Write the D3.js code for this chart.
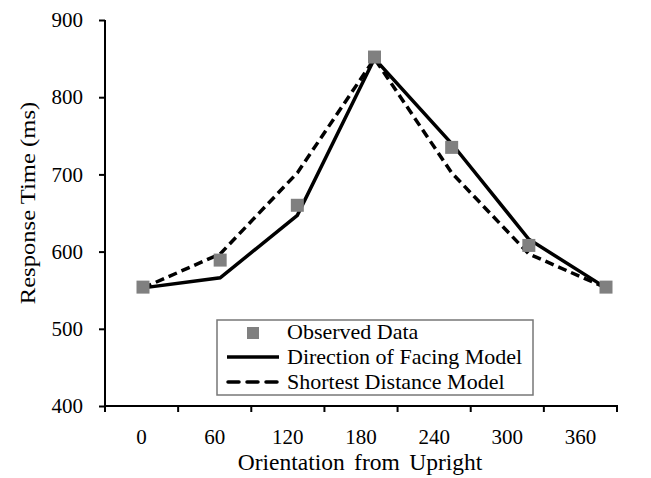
<!DOCTYPE html>
<html>
<head>
<meta charset="utf-8">
<script src="https://cdn.jsdelivr.net/npm/d3@7"></script>
<style>
    body { margin: 0; background: #fff; }
    svg text { font-family: "Liberation Serif", "Times New Roman", serif; fill: #000; }
</style>
</head>
<body>
<div id="chart"></div>
<script>
//chart values
var orientations = [0, 60, 120, 180, 240, 300, 360];
var observed = [554, 589, 660, 852, 735, 608, 554];
var facingModel = [553, 566, 647, 850, 740, 616, 553];
var distanceModel = [553, 597, 702, 850, 702, 597, 553];
var yTicks = [400, 500, 600, 700, 800, 900];
var legendLabels = ["Observed Data", "Direction of Facing Model", "Shortest Distance Model"];

var width = 651;
var height = 478;

var svg = d3.select("#chart")
    .append("svg:svg")
    .attr("width", width)
    .attr("height", height);

var y = d3.scaleLinear()
    .domain([400, 900])
    .range([406, 20]);

//category axis, one band per orientation
var xAxisScale = d3.scaleBand()
    .domain(orientations)
    .range([105, 617]);

//the plotted points sit a little wider than the category labels in the original
var x = d3.scaleLinear()
    .domain([0, 360])
    .range([143, 606]);

var xTickPositions = orientations.map(function(d) { return xAxisScale(d); })
    .concat([xAxisScale.range()[1]]);

// y axis
var yAxis = svg.append("svg:g")
    .attr("transform", "translate(105,0)")
    .call(d3.axisLeft(y).tickValues(yTicks).tickSize(6).tickPadding(16));
yAxis.select(".domain").attr("stroke-width", 2).attr("d", "M0,20V407");
yAxis.selectAll(".tick line").attr("stroke-width", 2);
yAxis.selectAll(".tick text")
    .style("font-family", "Liberation Serif")
    .style("font-size", "21px");

// x axis: labels centred in bands, ticks on band edges
var xAxis = svg.append("svg:g")
    .attr("transform", "translate(0,406)");
xAxis.append("svg:path")
    .attr("d", "M104,0H618")
    .attr("stroke", "#000")
    .attr("stroke-width", 2);
xAxis.selectAll(".x-tick")
    .data(xTickPositions)
    .enter()
    .append("svg:line")
    .attr("class", "x-tick")
    .attr("x1", function(d) { return d; })
    .attr("x2", function(d) { return d; })
    .attr("y1", 0)
    .attr("y2", 6)
    .attr("stroke", "#000")
    .attr("stroke-width", 2);
xAxis.selectAll(".x-label")
    .data(orientations)
    .enter()
    .append("svg:text")
    .attr("class", "x-label")
    .attr("x", function(d) { return xAxisScale(d) + xAxisScale.bandwidth() / 2; })
    .attr("y", 38)
    .attr("text-anchor", "middle")
    .style("font-size", "21px")
    .text(function(d) { return d; });

// axis titles
svg.append("svg:text")
    .attr("x", 360)
    .attr("y", 470)
    .attr("text-anchor", "middle")
    .style("font-size", "23.5px")
    .style("word-spacing", "3.5px")
    .text("Orientation from Upright");

//the original title is stretched along its length
svg.append("svg:text")
    .attr("transform", "translate(35,203) rotate(-90) scale(1.12,1)")
    .attr("text-anchor", "middle")
    .style("font-size", "22px")
    .text("Response Time (ms)");

// series
var line = d3.line()
    .x(function(d, i) { return x(orientations[i]); })
    .y(function(d) { return y(d); });

var series = svg.append("svg:g").attr("class", "vis-series");

series.append("svg:path")
    .datum(distanceModel)
    .attr("d", line)
    .attr("fill", "none")
    .attr("stroke", "#000")
    .attr("stroke-width", 3.5)
    .attr("stroke-dasharray", "9,5");

series.append("svg:path")
    .datum(facingModel)
    .attr("d", line)
    .attr("fill", "none")
    .attr("stroke", "#000")
    .attr("stroke-width", 3.5);

var sq = 13;
series.selectAll(".obs")
    .data(observed)
    .enter()
    .append("svg:rect")
    .attr("class", "obs")
    .attr("x", function(d, i) { return x(orientations[i]) - sq / 2; })
    .attr("y", function(d) { return y(d) - sq / 2; })
    .attr("width", sq)
    .attr("height", sq)
    .attr("fill", "#808080");

// legend
var legend = svg.append("svg:g").attr("transform", "translate(217,320)");
legend.append("svg:rect")
    .attr("x", 0)
    .attr("y", 0)
    .attr("width", 316)
    .attr("height", 75)
    .attr("fill", "#fff")
    .attr("stroke", "#777")
    .attr("stroke-width", 1.5);

legend.append("svg:rect")
    .attr("x", 30)
    .attr("y", 7)
    .attr("width", 12)
    .attr("height", 12)
    .attr("fill", "#808080");
legend.append("svg:line")
    .attr("x1", 10).attr("x2", 62)
    .attr("y1", 37).attr("y2", 37)
    .attr("stroke", "#000")
    .attr("stroke-width", 3.5);
legend.append("svg:line")
    .attr("x1", 11).attr("x2", 61)
    .attr("y1", 62).attr("y2", 62)
    .attr("stroke", "#000")
    .attr("stroke-width", 3.5)
    .attr("stroke-linecap", "round")
    .attr("stroke-dasharray", "11,8");

legend.selectAll(".legend-text")
    .data(legendLabels)
    .enter()
    .append("svg:text")
    .attr("class", "legend-text")
    .attr("x", 70)
    .attr("y", function(d, i) { return 19 + i * 24.8; })
    .style("font-size", "22px")
    .text(function(d) { return d; });
</script>
</body>
</html>
